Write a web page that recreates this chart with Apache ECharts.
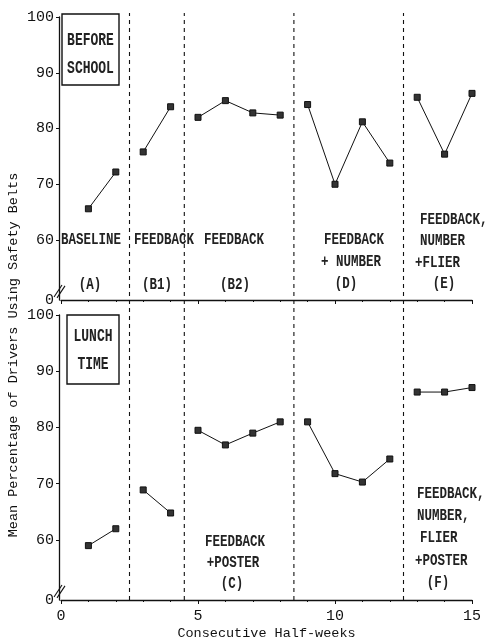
<!DOCTYPE html>
<html>
<head>
<meta charset="utf-8">
<script src="https://cdn.jsdelivr.net/npm/echarts@6/dist/echarts.min.js"></script>
<style>
html,body{margin:0;padding:0;background:#fff;}
#c{width:486px;height:643px;}
</style>
</head>
<body>
<div id="c"></div>
<script>
// ---------------- data ----------------
const halfWeeks = [1,2,3,4,5,6,7,8,9,10,11,12,13,14,15];
const beforeSchool = [65.6,72.2,75.8,83.9,82.0,85.0,82.8,82.4,84.3,70.0,81.2,73.8,85.6,75.4,86.3];
const lunchTime   = [59.0,62.0,68.9,64.8,79.5,76.9,79.0,81.0,81.0,71.8,70.3,74.4,86.3,86.3,87.1];
const phaseRanges = [[1,2],[3,4],[5,8],[9,12],[13,15]];
const phaseBreaks = [2.5,4.5,8.5,12.5];
const yTickValues = [60,70,80,90,100];
const xTickLabels = [0,5,10,15];
const panelTitles = [['BEFORE','SCHOOL'],['LUNCH','TIME']];
const topPhaseTexts = [['BASELINE'],['(A)'],['FEEDBACK'],['(B1)'],['FEEDBACK'],['(B2)'],
  ['FEEDBACK','+ NUMBER','(D)'],['FEEDBACK,','NUMBER','+FLIER','(E)']];
const bottomPhaseTexts = [['FEEDBACK','+POSTER','(C)'],['FEEDBACK,','NUMBER,','FLIER','+POSTER','(F)']];
const yTitle = 'Mean Percentage of Drivers Using Safety Belts';
const xTitle = 'Consecutive Half-weeks';

// ---------------- layout ----------------
const FONT = "'Liberation Mono', 'DejaVu Sans Mono', monospace";
const INK = '#111';
const yMinTop = 49.24, yMinBot = 49.33;

function phaseSeries(values, gi) {
  return phaseRanges.map(([a,b]) => ({
    type: 'line',
    xAxisIndex: gi, yAxisIndex: gi,
    data: halfWeeks.map((h,i)=>[h, values[i]]).filter(p => p[0]>=a && p[0]<=b),
    symbol: 'rect', symbolSize: 6,
    itemStyle: {color: '#333', borderColor: INK, borderWidth: 1},
    lineStyle: {color: INK, width: 1},
    silent: true, animation: false
  }));
}
function breakSeries() {
  return phaseBreaks.map(b => ({
    type: 'line', xAxisIndex: 2, yAxisIndex: 2,
    data: [[b,0],[b,1]], symbol: 'none',
    lineStyle: {color: INK, width: 1.1, type: [4,4]},
    silent: true, animation: false
  }));
}
function xAxisCfg(gi, showLabels) {
  return {
    type: 'value', gridIndex: gi, min: 0, max: 15, interval: 5,
    axisLine: {show: true, onZero: false, lineStyle: {color: INK, width: 1.3}},
    axisTick: {show: true, length: 4, lineStyle: {color: INK}},
    minorTick: {show: true, splitNumber: 5, length: 2, lineStyle: {color: INK}},
    splitLine: {show: false},
    axisLabel: {show: showLabels, fontFamily: FONT, fontSize: 15, color: INK, margin: 9,
      customValues: xTickLabels},
    name: showLabels ? xTitle : '', nameLocation: 'middle', nameGap: 26,
    nameTextStyle: {fontFamily: FONT, fontSize: 13.5, color: INK}
  };
}
function yAxisCfg(gi, minV) {
  return {
    type: 'value', gridIndex: gi, min: minV, max: 100, offset: 2,
    axisLine: {show: true, onZero: false, lineStyle: {color: INK, width: 1.3}},
    axisTick: {show: true, length: 3, customValues: yTickValues, lineStyle: {color: INK}},
    splitLine: {show: false},
    axisLabel: {fontFamily: FONT, fontSize: 15, color: INK, margin: 5,
      customValues: [minV].concat(yTickValues),
      formatter: v => (v < 55 ? '0' : String(Math.round(v)))}
  };
}

const option = {
  backgroundColor: '#fff',
  animation: false,
  grid: [
    {left: 61, right: 14, top: 17, height: 283},
    {left: 61, right: 14, top: 315, height: 285},
    {left: 61, right: 14, top: 13, height: 587}
  ],
  xAxis: [xAxisCfg(0,false), xAxisCfg(1,true),
    {type:'value', gridIndex:2, min:0, max:15, show:false}],
  yAxis: [yAxisCfg(0,yMinTop), yAxisCfg(1,yMinBot),
    {type:'value', gridIndex:2, min:0, max:1, show:false}],
  series: [].concat(breakSeries(), phaseSeries(beforeSchool,0), phaseSeries(lunchTime,1))
};

const chart = echarts.init(document.getElementById('c'), null, {renderer: 'canvas'});
chart.setOption(option);

// ---------------- annotations ----------------
const topLayout = [
  {x:91, y:[240], align:'center'}, {x:90, y:[285], align:'center'},
  {x:164, y:[240], align:'center'}, {x:157, y:[285], align:'center'},
  {x:234, y:[240], align:'center'}, {x:235, y:[285], align:'center'},
  {x:[354,351,346], y:[240,262,284], align:'center'},
  {x:[420,420,415,444], y:[220,241,263,284], align:['left','left','left','center']}
];
const bottomLayout = [
  {x:[235,233,232], y:[542,563,584], align:'center'},
  {x:[417,417,420,415,438], y:[494,516,538,561,583], align:['left','left','left','left','center']}
];
const graphics = [];
function addText(txt, x, y, align, size, sy) {
  graphics.push({type:'text', x:x, y:y, scaleY: sy, silent:true,
    style:{text:txt, font: 'bold ' + size + 'px ' + FONT, fill: '#222', textAlign: align, textVerticalAlign:'middle'}});
}
function place(texts, layout) {
  texts.forEach((lines, i) => {
    const L = layout[i];
    lines.forEach((t, j) => {
      const x = Array.isArray(L.x) ? L.x[j] : L.x;
      const a = Array.isArray(L.align) ? L.align[j] : L.align;
      addText(t, x, L.y[j], a, 12.5, 1.35);
    });
  });
}
place(topPhaseTexts, topLayout);
place(bottomPhaseTexts, bottomLayout);

// panel title boxes
const boxes = [{x:62, y:14, w:57, h:71, ty:[41,69]}, {x:67, y:315, w:52, h:69, ty:[337,365]}];
boxes.forEach((b, i) => {
  graphics.push({type:'rect', shape:{x:b.x, y:b.y, width:b.w, height:b.h}, silent:true,
    style:{fill:'#fff', stroke: INK, lineWidth: 1.4}});
  panelTitles[i].forEach((t, j) => addText(t, b.x + b.w/2, b.ty[j], 'center', 13, 1.35));
});

// axis break marks
[0,1].forEach(gi => {
  const p = chart.convertToPixel({gridIndex: gi}, [0, gi === 0 ? yMinTop : yMinBot]);
  const ax = p[0] - 2, by = p[1];
  [0,3].forEach(d => graphics.push({type:'line', silent:true,
    shape:{x1: ax - 5 + d, y1: by - 3 + d*0.3, x2: ax + 3 + d, y2: by - 15 + d*0.3},
    style:{stroke: INK, lineWidth: 1.1}}));
});

// y title
graphics.push({type:'text', x:13, y:355, rotation: Math.PI/2, silent:true,
  style:{text: yTitle, font: '13.5px ' + FONT, fill: INK, textAlign:'center', textVerticalAlign:'middle'}});

chart.setOption({graphic: graphics});
</script>
</body>
</html>
